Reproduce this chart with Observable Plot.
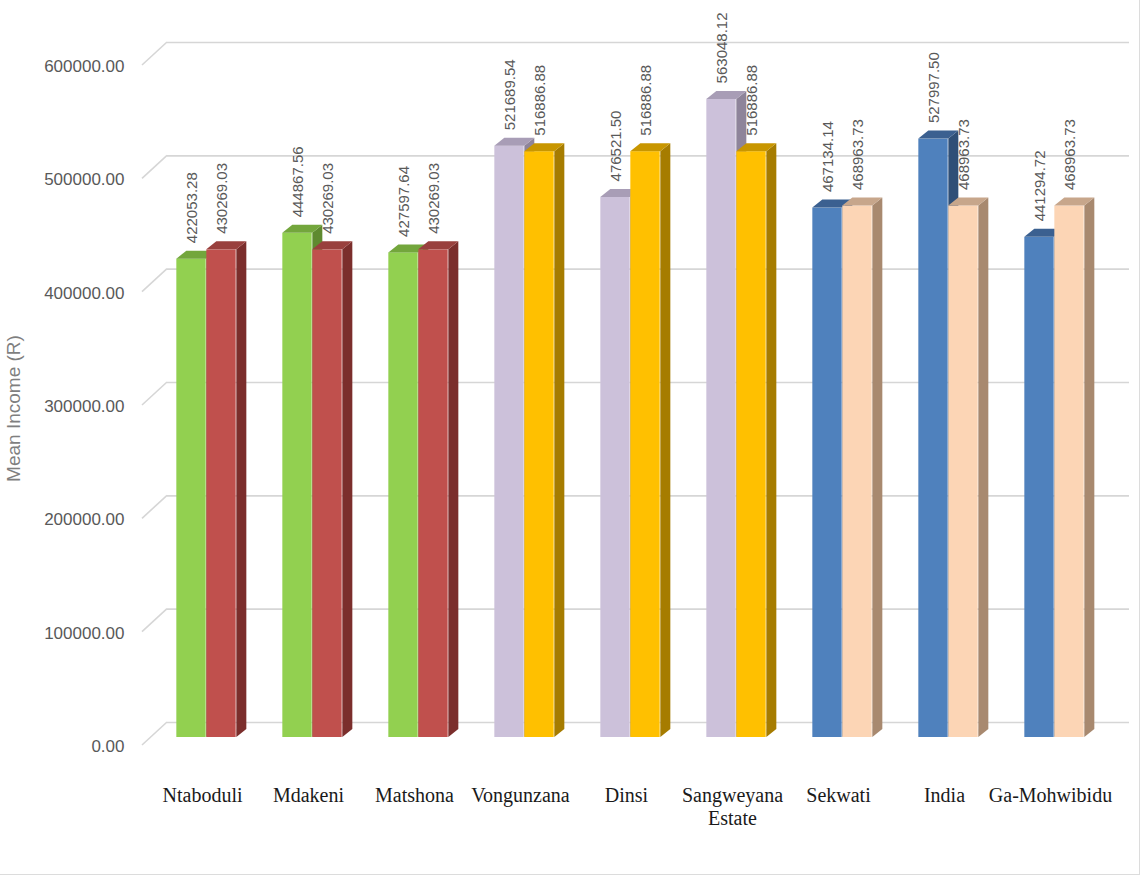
<!DOCTYPE html>
<html>
<head>
<meta charset="utf-8">
<script src="https://cdn.jsdelivr.net/npm/d3@7"></script>
<script src="https://cdn.jsdelivr.net/npm/@observablehq/plot@0.6"></script>
<style>
  html, body { margin: 0; padding: 0; background: #fff; }
  #wrap { position: relative; width: 1142px; height: 876px; }
  #wrap .edge { position: absolute; left: 0; top: 0; width: 1139px; height: 874px;
    border-right: 1.5px solid #dcdcdc; border-bottom: 1.5px solid #dcdcdc; pointer-events: none; }
</style>
</head>
<body>
<div id="wrap"><div class="edge"></div></div>
<script>
// Villages, in display order
const categories = ["Ntaboduli", "Mdakeni", "Matshona", "Vongunzana", "Dinsi",
  "Sangweyana Estate", "Sekwati", "India", "Ga-Mohwibidu"];
// Mean income per village (first bar of each pair)
const villageIncome = [422053.28, 444867.56, 427597.64, 521689.54, 476521.50,
  563048.12, 467134.14, 527997.50, 441294.72];
// Mean income of the village's area (second bar of each pair)
const areaIncome = [430269.03, 430269.03, 430269.03, 516886.88, 516886.88,
  516886.88, 468963.73, 468963.73, 468963.73];
const yTicks = [0, 100000, 200000, 300000, 400000, 500000, 600000];
const yLabel = "Mean Income (R)";

// Colours for each block of three villages: [front, top, side]
const paletteA = [["#92D050", "#73a63c", "#5f8a2f"], ["#CCC1DA", "#a89db6", "#8e849a"], ["#4F81BD", "#3b6090", "#2f4f77"]];
const paletteB = [["#C0504D", "#99403d", "#7b2e2c"], ["#FFC000", "#c89600", "#a67c00"], ["#FCD5B5", "#c7a68b", "#a8896f"]];

const rows = categories.map((cat, i) => ({cat, i, a: villageIncome[i], b: areaIncome[i], g: Math.floor(i / 3)}));

const W = 1142, H = 876;
const mL = 150, mR = 32, mT = 57, mB = 139;
const band = (W - mL - mR) / categories.length;
const BAR = 30;                 // width of each bar
const gap = (band - 2 * BAR) / 2;
const DX = 10, DY = -8;         // bar depth
const WALL_X0 = 142, WALL_DX = 25, FRONT_DY = 8, BACK_DY = -15; // gridline wall geometry

const fmt = v => v.toFixed(2);
const sans = "'Liberation Sans', Arial, sans-serif";
const serif = "'Liberation Serif', 'Times New Roman', serif";

const chart = Plot.plot({
  width: W, height: H,
  marginLeft: mL, marginRight: mR, marginTop: mT, marginBottom: mB,
  style: {background: "transparent", overflow: "visible"},
  x: {type: "band", domain: categories, padding: 0, axis: null},
  y: {domain: [0, 600000], axis: null},
  marks: [
    // back-wall gridlines
    Plot.ruleY(yTicks, {y: d => d, dy: BACK_DY, insetLeft: WALL_X0 + WALL_DX - mL, insetRight: -19,
      stroke: "#d6d6d6", strokeWidth: 1.6}),
    // y tick labels
    Plot.text(yTicks, {y: d => d, text: fmt, frameAnchor: "left", textAnchor: "end", lineAnchor: "middle",
      dx: -26, dy: FRONT_DY + 1, fontSize: 17, fontFamily: sans, fill: "#595959"}),
    // y axis title
    Plot.text([yLabel], {frameAnchor: "left", text: d => d, rotate: -90, lineAnchor: "middle", textAnchor: "middle",
      dx: -137, dy: 11, fontSize: 19, fontFamily: sans, fill: "#7f7f7f"}),
    // bars
    Plot.barY(rows, {x: "cat", y: "a", fill: d => paletteA[d.g][0], insetLeft: gap, insetRight: gap + BAR}),
    Plot.barY(rows, {x: "cat", y: "b", fill: d => paletteB[d.g][0], insetLeft: gap + BAR, insetRight: gap}),
    // value labels
    Plot.text(rows, {x: "cat", y: "a", text: d => fmt(d.a), rotate: -90, textAnchor: "start", lineAnchor: "middle",
      dx: -14, dy: -16, fontSize: 15, fontFamily: sans, fill: "#595959"}),
    Plot.text(rows, {x: "cat", y: "b", text: d => fmt(d.b), rotate: -90, textAnchor: "start", lineAnchor: "middle",
      dx: 16, dy: -16, fontSize: 15, fontFamily: sans, fill: "#595959"}),
    // category labels
    Plot.text(categories, {x: d => d, text: d => d.replace(" ", "\n"), frameAnchor: "bottom", lineAnchor: "top",
      dx: -4, dy: 48, fontSize: 20, lineHeight: 1.15, fontFamily: serif, fill: "#1a1a1a"})
  ]
});

// Depth faces (top and side) and the gridline diagonals, placed with the plot's own scales
const X = chart.scale("x"), Y = chart.scale("y");
const svg = d3.select(chart.tagName.toLowerCase() === "svg" ? chart : chart.querySelector("svg"));
const ns = "http://www.w3.org/2000/svg";

// diagonals on the left wall, behind everything
const firstMark = svg.node().querySelector("g");
const diag = document.createElementNS(ns, "g");
svg.node().insertBefore(diag, firstMark);
d3.select(diag).selectAll("line").data(yTicks).join("line")
  .attr("x1", WALL_X0).attr("y1", d => Y.apply(d) + FRONT_DY)
  .attr("x2", WALL_X0 + WALL_DX).attr("y2", d => Y.apply(d) + BACK_DY)
  .attr("stroke", "#d6d6d6").attr("stroke-width", 1.6);

const barGroups = svg.node().querySelectorAll('g[aria-label="bar"]');
[["a", paletteA, gap], ["b", paletteB, gap + BAR]].forEach(([key, pal, off], s) => {
  const g = document.createElementNS(ns, "g");
  barGroups[s].after(g);
  const base = Y.apply(0);
  rows.forEach(d => {
    const x0 = X.apply(d.cat) + off, x1 = x0 + BAR, top = Y.apply(d[key]);
    const side = [[x1, top], [x1 + DX, top + DY], [x1 + DX, base + DY], [x1, base]];
    const lid = [[x0, top], [x0 + DX, top + DY], [x1 + DX, top + DY], [x1, top]];
    d3.select(g).append("polygon").attr("points", side.join(" ")).attr("fill", pal[d.g][2]);
    d3.select(g).append("polygon").attr("points", lid.join(" ")).attr("fill", pal[d.g][1]);
  });
});

document.getElementById("wrap").prepend(chart);
</script>
</body>
</html>
